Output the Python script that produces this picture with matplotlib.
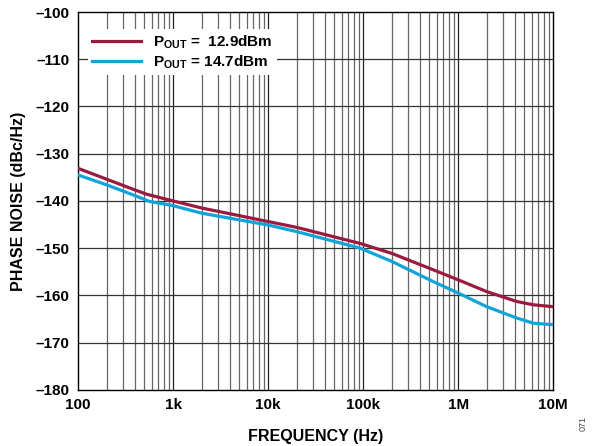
import numpy as np
import matplotlib
matplotlib.use('Agg')
import matplotlib.pyplot as plt
from matplotlib.ticker import FixedLocator, NullFormatter

plt.rcParams['font.family'] = ['Liberation Sans', 'DejaVu Sans']
plt.rcParams['font.weight'] = 'bold'
plt.rcParams['mathtext.fontset'] = 'custom'
plt.rcParams['mathtext.rm'] = 'Liberation Sans:bold'
plt.rcParams['mathtext.bf'] = 'Liberation Sans:bold'

# values
freq_red = [100, 200, 400, 530, 1000, 2000, 20e3, 93e3, 200e3, 550e3, 1e6, 2e6, 4.15e6, 6.2e6, 10e6]
pn_red = [-133.1, -135.4, -137.7, -138.6, -140.0, -141.5, -145.6, -149.0, -151.1, -154.6, -156.7, -159.2, -161.3, -162.0, -162.4]

freq_blue = [100, 200, 400, 560, 1000, 2000, 10e3, 20e3, 93e3, 200e3, 550e3, 1e6, 2e6, 4.15e6, 6.2e6, 10e6]
pn_blue = [-134.5, -136.6, -138.9, -140.1, -141.0, -142.6, -145.1, -146.5, -150.0, -152.8, -157.1, -159.5, -162.4, -164.8, -165.9, -166.2]

labels = [r'P$_\mathrm{OUT}$ =  12.9dBm', r'P$_\mathrm{OUT}$ = 14.7dBm']
xticks = [1e2, 1e3, 1e4, 1e5, 1e6, 1e7]
xticklabels = ['100', '1k', '10k', '100k', '1M', '10M']
yticks = list(range(-180, -99, 10))

fig = plt.figure(figsize=(5.96, 4.46), dpi=100)
ax = fig.add_axes([0.131, 0.126, 0.797, 0.847])

ax.set_xscale('log')
ax.set_xlim(100, 10e6)
ax.set_ylim(-180, -100)

# grid: every decade subdivision plus 10 dB lines
minors = [m * 10 ** e for e in range(2, 7) for m in range(2, 10)]
for f in minors:
    ax.axvline(f, color='#666666', lw=0.9, zorder=1)
for f in xticks[1:-1]:
    ax.axvline(f, color='#222222', lw=0.9, zorder=1)
for y in yticks[1:-1]:
    ax.axhline(y, color='#333333', lw=0.9, zorder=1)

ax.plot(freq_red, pn_red, color='#9b1b40', lw=2.3, label=labels[0], zorder=3)
ax.plot(freq_blue, pn_blue, color='#10a4d8', lw=2.3, label=labels[1], zorder=3)

ax.xaxis.set_major_locator(FixedLocator(xticks))
ax.xaxis.set_minor_locator(FixedLocator(minors))
ax.xaxis.set_minor_formatter(NullFormatter())
ax.set_xticklabels(xticklabels)
ax.set_yticks(yticks)
ax.set_yticklabels(['\u2013' + str(abs(v)) for v in yticks])
ax.tick_params(which='both', length=0, labelsize=11, pad=6)
for t in ax.get_xticklabels() + ax.get_yticklabels():
    t.set_fontweight('bold')

for s in ax.spines.values():
    s.set_linewidth(1.0)
    s.set_color('black')

ax.set_xlabel('FREQUENCY (Hz)', fontsize=11.5, fontweight='bold', labelpad=12)
ax.set_ylabel('PHASE NOISE (dBc/Hz)', fontsize=11.5, fontweight='bold', labelpad=7)

leg = ax.legend(loc='upper left', bbox_to_anchor=(0.02, 0.955), frameon=True,
                fancybox=False, edgecolor='none', facecolor='white', framealpha=1,
                prop={'size': 11, 'weight': 'bold'}, handlelength=3.2,
                handletextpad=0.8, labelspacing=0.12, borderpad=0.3,
                borderaxespad=0)
leg.set_zorder(5)

fig.text(0.978, 0.05, '071', rotation=90, fontsize=6.5, fontweight='normal',
         color='#444444', ha='center', va='center')

fig.savefig('out.png', dpi=100)
